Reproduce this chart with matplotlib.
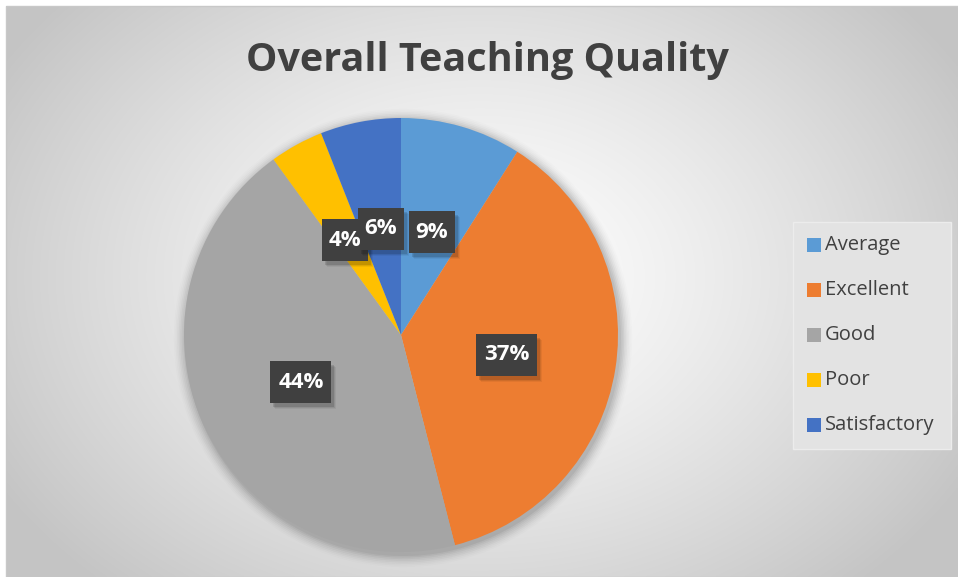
import numpy as np
import matplotlib
matplotlib.use("Agg")
import matplotlib.pyplot as plt
from matplotlib.patches import Rectangle, Circle

categories = ["Average", "Excellent", "Good", "Poor", "Satisfactory"]
values = [9, 37, 44, 4, 6]
pct_labels = ["9%", "37%", "44%", "4%", "6%"]
colors = ["#5B9BD5", "#ED7D31", "#A5A5A5", "#FFC000", "#4472C4"]
title = "Overall Teaching Quality"

W, H = 958, 577
fig = plt.figure(figsize=(W / 100, H / 100), dpi=100)
fig.patch.set_facecolor("white")
ax = fig.add_axes([0, 0, 1, 1])

# radial gradient background of the chart frame
x0, x1, y0, y1 = 6, W, 0, H - 6
xx, yy = np.meshgrid(np.linspace(x0, x1, 400), np.linspace(y0, y1, 250))
cx, cy = 480, 300
d = np.sqrt(((xx - cx) / 560) ** 2 + ((yy - cy) / 420) ** 2)
d = np.clip(d, 0, 1)
val = 1.0 - 0.23 * d ** 1.3
img = np.dstack([val, val, val])
ax.imshow(img, extent=[x0, x1, y0, y1], origin="lower", zorder=0, interpolation="bilinear")
ax.add_patch(Rectangle((x0, y0), x1 - x0, y1 - y0, fill=False, edgecolor="#c8c8c8", lw=1, zorder=1))

# pie shadow
pcx, pcy, r = 401, H - 335, 217
for k, a in enumerate(np.linspace(0.05, 0.01, 8)):
    ax.add_patch(Circle((pcx + 2, pcy - 3), r + 1 + k * 1.6, facecolor="black", alpha=a, lw=0, zorder=1.5))

wedges, _ = ax.pie(values, colors=colors, startangle=90, counterclock=False, center=(pcx, pcy), radius=r,
                   wedgeprops=dict(linewidth=0), frame=True)
for wdg in wedges:
    wdg.set_zorder(3)
ax.set_xlim(0, W)
ax.set_ylim(0, H)
ax.set_aspect("equal")
ax.axis("off")

fnt = "Open Sans"
ax.text(487, H - 60, title, ha="center", va="center", fontsize=28.5, fontweight="bold",
        color="#404040", family=fnt, zorder=5)

# data labels
label_pos = [(432, 232), (507, 355), (301, 382), (345, 240), (381, 229)]
order = [2, 1, 3, 4, 0]
for i in order:
    x, y = label_pos[i]
    y = H - y
    w = 15 * len(pct_labels[i]) + 16
    h = 42
    for k, a in enumerate([0.12, 0.08, 0.05]):
        ax.add_patch(Rectangle((x - w / 2 + 3 + k, y - h / 2 - 4 - k), w, h, facecolor="black",
                               alpha=a, lw=0, zorder=6))
    ax.add_patch(Rectangle((x - w / 2, y - h / 2), w, h, facecolor="#404040", lw=0, zorder=6))
    ax.text(x, y, pct_labels[i], ha="center", va="center", fontsize=16, fontweight="bold",
            color="white", family=fnt, zorder=7)

# legend
lx0, ly0, lx1, ly1 = 793, H - 449, 951, H - 222
ax.add_patch(Rectangle((lx0, ly0), lx1 - lx0, ly1 - ly0, facecolor="#e3e3e3", edgecolor="#ececec", lw=1, zorder=4))
for k, (c, lab) in enumerate(zip(colors, categories)):
    y = H - (245 + 45 * k)
    ax.add_patch(Rectangle((807, y - 7), 14, 14, facecolor=c, lw=0, zorder=5))
    ax.text(825, y, lab, ha="left", va="center", fontsize=14.5, color="#404040", family=fnt, zorder=5)

fig.savefig("out.png", dpi=100)
